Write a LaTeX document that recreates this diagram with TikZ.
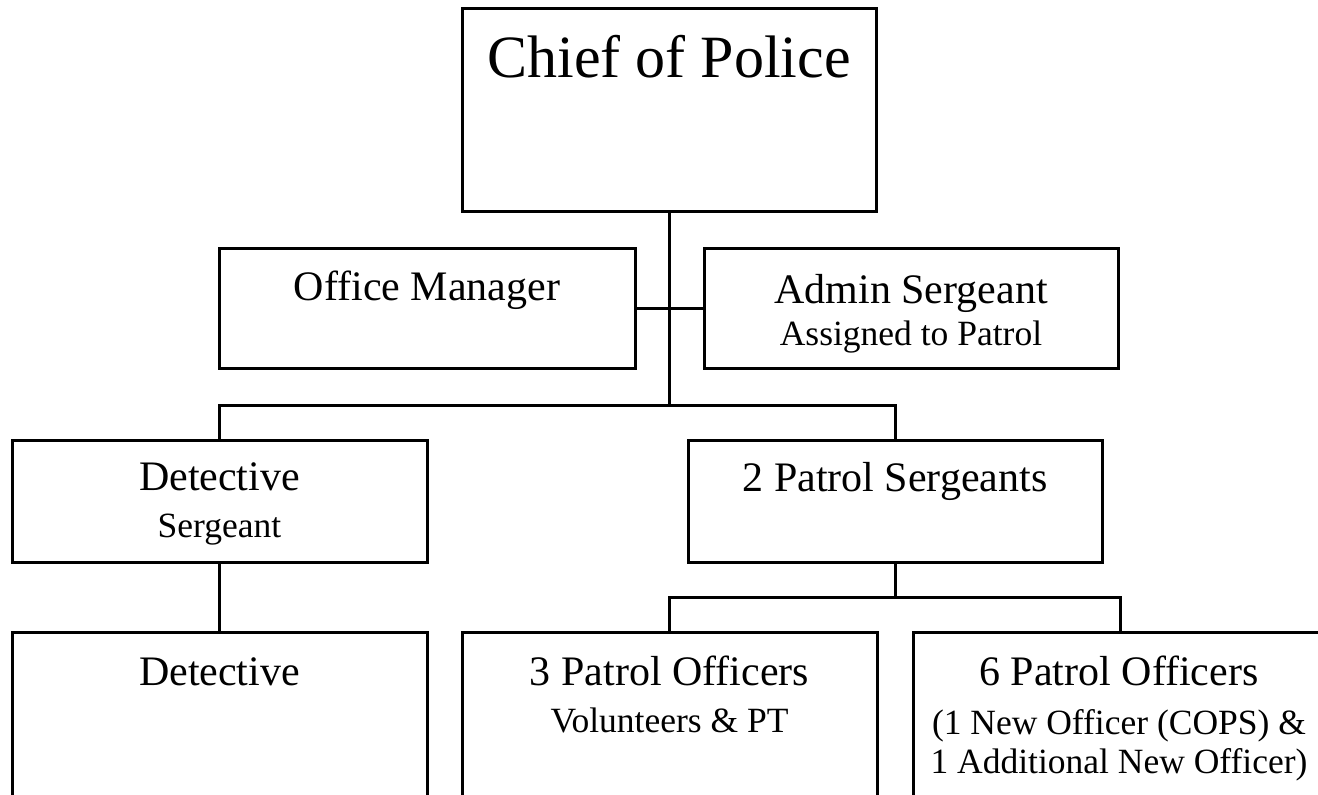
\documentclass[tikz,border=0pt]{standalone}
\usepackage{fontspec}
\setmainfont{Liberation Serif}
\begin{document}
\begin{tikzpicture}[x=1pt,y=-1pt,
  box/.style={draw=black, line width=3pt, rectangle, inner sep=0pt,
              minimum width=415pt, minimum height=122pt},
  link/.style={draw=black, line width=3pt},
  title/.style={anchor=base, inner sep=0pt, font=\fontsize{60}{70}\selectfont},
  main/.style={anchor=base, inner sep=0pt, font=\fontsize{42}{48}\selectfont},
  sub/.style={anchor=base, inner sep=0pt, font=\fontsize{35.5}{40}\selectfont}]
\clip (0,0) rectangle (1318,795);

% boxes
\node[box, minimum width=414pt, minimum height=203pt] (chief) at (669,109.5) {};
\node[box, minimum width=416pt, minimum height=120pt] (office) at (427,308) {};
\node[box, minimum width=414pt, minimum height=120pt] (admin) at (911,308) {};
\node[box] (detsgt) at (219.5,501) {};
\node[box, minimum width=414pt] (patsgt) at (895,501) {};
\node[box, minimum height=218pt] (det) at (219.5,741) {};
\node[box, minimum height=218pt] (pofc3) at (669.5,741) {};
\node[box, minimum height=218pt] (pofc6) at (1120.5,741) {};

% junction points
\coordinate (hub) at (669,405);
\coordinate (pbar) at (895,597);

% connectors
\draw[link] (chief.south) -- (hub);
\draw[link] (office.east) -- (admin.west);
\draw[link] (detsgt.north) |- (hub) -| (patsgt.north);
\draw[link] (detsgt.south) -- (det.north);
\draw[link] (patsgt.south) -- (pbar);
\draw[link] (pofc3.north) |- (pbar) -| (pofc6.north);

% labels
\node[title] (tchief) at (669,77) {Chief of Police};
\node[main] (toffice) at (427,300) {Office Manager};
\node[main] (tadmin) at (911,303) {Admin Sergeant};
\node[sub] (tadmin2) at (911,345) {Assigned to Patrol};
\node[main] (tdetsgt) at (219.5,490) {Detective};
\node[sub] (tdetsgt2) at (219.5,537) {Sergeant};
\node[main] (tpatsgt) at (895,491) {2 Patrol Sergeants};
\node[main] (tdet) at (219.5,685) {Detective};
\node[main] (tpofc3) at (669.5,685) {3 Patrol Officers};
\node[sub] (tpofc3b) at (669.5,732) {Volunteers \& PT};
\node[main] (tpofc6) at (1119,685) {6 Patrol Officers};
\node[sub] (tpofc6b) at (1119,734) {(1 New Officer (COPS) \&};
\node[sub] (tpofc6c) at (1119,773) {1 Additional New Officer)};
\end{tikzpicture}
\end{document}
